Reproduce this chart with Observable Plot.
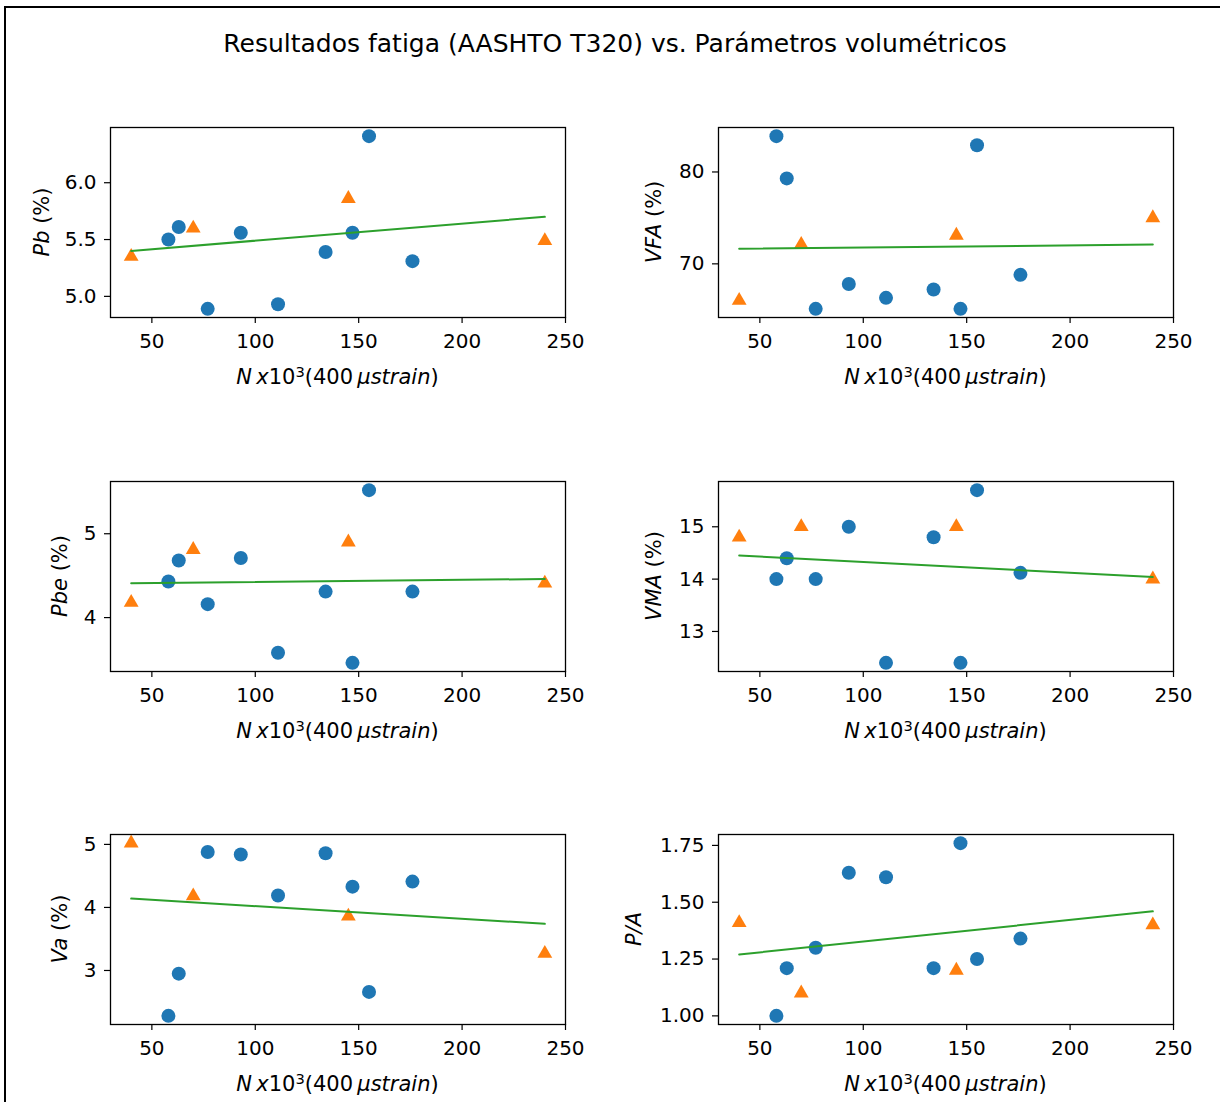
<!DOCTYPE html>
<html>
<head>
<meta charset="utf-8">
<script src="https://cdn.jsdelivr.net/npm/d3@7"></script>
<script src="https://cdn.jsdelivr.net/npm/@observablehq/plot@0.6"></script>
<style>
  html, body { margin: 0; padding: 0; background: #fff; }
  #fig { position: relative; width: 1220px; height: 1102px; overflow: hidden; font-family: "DejaVu Sans", sans-serif; color: #000; }
  .border { position: absolute; left: 4px; top: 6px; width: 1300px; height: 1300px; border-left: 2px solid #000; border-top: 2px solid #000; }
  .title { position: absolute; left: 615px; top: 43px; transform: translate(-50%, -50%); font-size: 25px; white-space: nowrap; }
  .panel { position: absolute; }
  .xlab, .ylab { position: absolute; font-size: 21px; white-space: nowrap; }
  .xlab { transform: translate(-50%, -50%); }
  .ylab { transform: translate(-50%, -50%) rotate(-90deg); }
  .sup { font-size: 0.7em; position: relative; top: -0.5em; }
</style>
</head>
<body>
<div id="fig"><div class="border"></div></div>
<script>
// ---- data ----
const title = "Resultados fatiga (AASHTO T320) vs. Parámetros volumétricos";
const xBlue = [58, 63, 77, 93, 111, 134, 147, 155, 176];
const xOrange = [40, 70, 145, 240];
const xFit = [40, 240];
const xTicks = [50, 100, 150, 200, 250];

const pbBlue = [5.50, 5.61, 4.89, 5.56, 4.93, 5.39, 5.56, 6.41, 5.31];
const pbOrange = [5.35, 5.60, 5.86, 5.49];
const pbFit = [5.40, 5.70];
const pbTicks = [5.0, 5.5, 6.0];

const vfaBlue = [83.9, 79.3, 65.1, 67.8, 66.3, 67.2, 65.1, 82.9, 68.8];
const vfaOrange = [66.0, 72.1, 73.1, 75.0];
const vfaFit = [71.65, 72.1];
const vfaTicks = [70, 80];

const pbeBlue = [4.43, 4.68, 4.16, 4.71, 3.58, 4.31, 3.46, 5.52, 4.31];
const pbeOrange = [4.18, 4.81, 4.90, 4.41];
const pbeFit = [4.41, 4.46];
const pbeTicks = [4, 5];

const vmaBlue = [14.0, 14.4, 14.0, 15.0, 12.4, 14.8, 12.4, 15.7, 14.12];
const vmaOrange = [14.8, 15.0, 15.0, 14.0];
const vmaFit = [14.45, 14.04];
const vmaTicks = [13, 14, 15];

const vaBlue = [2.28, 2.95, 4.88, 4.84, 4.19, 4.86, 4.33, 2.66, 4.41];
const vaOrange = [5.02, 4.18, 3.86, 3.27];
const vaFit = [4.14, 3.74];
const vaTicks = [3, 4, 5];

const paBlue = [1.00, 1.21, 1.30, 1.63, 1.61, 1.21, 1.76, 1.25, 1.34];
const paOrange = [1.41, 1.10, 1.20, 1.40];
const paFit = [1.27, 1.46];
const paTicks = [1.00, 1.25, 1.50, 1.75];

// ---- layout ----
const fig = document.getElementById("fig");
const t = document.createElement("div");
t.className = "title"; t.textContent = title; fig.appendChild(t);

const FW = 455, FH = 190, ML = 90, MR = 30, MT = 10, MB = 80;
const xLabelHTML = '<i>N</i>&thinsp;<i>x</i>10<span class="sup">3</span>(400&thinsp;<i>μstrain</i>)';

const panels = [
  {left: 110, top: 127, blue: pbBlue, orange: pbOrange, fit: pbFit, ticks: pbTicks, fmt: d3.format(".1f"), ylab: '<i>Pb</i> (%)', yoff: 68},
  {left: 718, top: 127, blue: vfaBlue, orange: vfaOrange, fit: vfaFit, ticks: vfaTicks, fmt: d3.format("d"), ylab: '<i>VFA</i> (%)', yoff: 64},
  {left: 110, top: 481, blue: pbeBlue, orange: pbeOrange, fit: pbeFit, ticks: pbeTicks, fmt: d3.format("d"), ylab: '<i>Pbe</i> (%)', yoff: 50},
  {left: 718, top: 481, blue: vmaBlue, orange: vmaOrange, fit: vmaFit, ticks: vmaTicks, fmt: d3.format("d"), ylab: '<i>VMA</i> (%)', yoff: 64},
  {left: 110, top: 834, blue: vaBlue, orange: vaOrange, fit: vaFit, ticks: vaTicks, fmt: d3.format("d"), ylab: '<i>Va</i> (%)', yoff: 50},
  {left: 718, top: 834, blue: paBlue, orange: paOrange, fit: paFit, ticks: paTicks, fmt: d3.format(".2f"), ylab: '<i>P/A</i>', yoff: 84}
];

function padDomain(values) {
  const [lo, hi] = d3.extent(values);
  const p = (hi - lo) * 0.05;
  return [lo - p, hi + p];
}

for (const p of panels) {
  const blue = xBlue.map((x, i) => ({x, y: p.blue[i]}));
  const orange = xOrange.map((x, i) => ({x, y: p.orange[i]}));
  const fit = xFit.map((x, i) => ({x, y: p.fit[i]}));
  const yDom = padDomain([...p.blue, ...p.orange, ...p.fit]);
  const chart = Plot.plot({
    width: ML + FW + MR, height: MT + FH + MB,
    marginLeft: ML, marginRight: MR, marginTop: MT, marginBottom: MB,
    style: {fontFamily: "DejaVu Sans", fontSize: "20px", color: "#000", background: "transparent", overflow: "visible"},
    x: {domain: [30, 250]},
    y: {domain: yDom},
    marks: [
      Plot.axisX({ticks: xTicks, tickSize: 6, tickPadding: 10, tickFormat: d3.format("d"), label: null, strokeWidth: 1.2}),
      Plot.axisY({ticks: p.ticks, tickSize: 6, tickPadding: 8, tickFormat: p.fmt, label: null, strokeWidth: 1.2}),
      Plot.dot(blue, {x: "x", y: "y", r: 7, fill: "#1f77b4"}),
      Plot.dot(orange, {x: "x", y: "y", r: 5.5, symbol: "triangle", fill: "#ff7f0e"}),
      Plot.line(fit, {x: "x", y: "y", stroke: "#2ca02c", strokeWidth: 2}),
      Plot.frame({stroke: "#000", strokeWidth: 1.3})
    ]
  });
  const holder = document.createElement("div");
  holder.className = "panel";
  holder.style.left = (p.left - ML) + "px";
  holder.style.top = (p.top - MT) + "px";
  holder.appendChild(chart);
  fig.appendChild(holder);

  const xl = document.createElement("div");
  xl.className = "xlab"; xl.innerHTML = xLabelHTML;
  xl.style.left = (p.left + FW / 2) + "px";
  xl.style.top = (p.top + FH + 60) + "px";
  fig.appendChild(xl);

  const yl = document.createElement("div");
  yl.className = "ylab"; yl.innerHTML = p.ylab;
  yl.style.left = (p.left - p.yoff) + "px";
  yl.style.top = (p.top + FH / 2) + "px";
  fig.appendChild(yl);
}
</script>
</body>
</html>
